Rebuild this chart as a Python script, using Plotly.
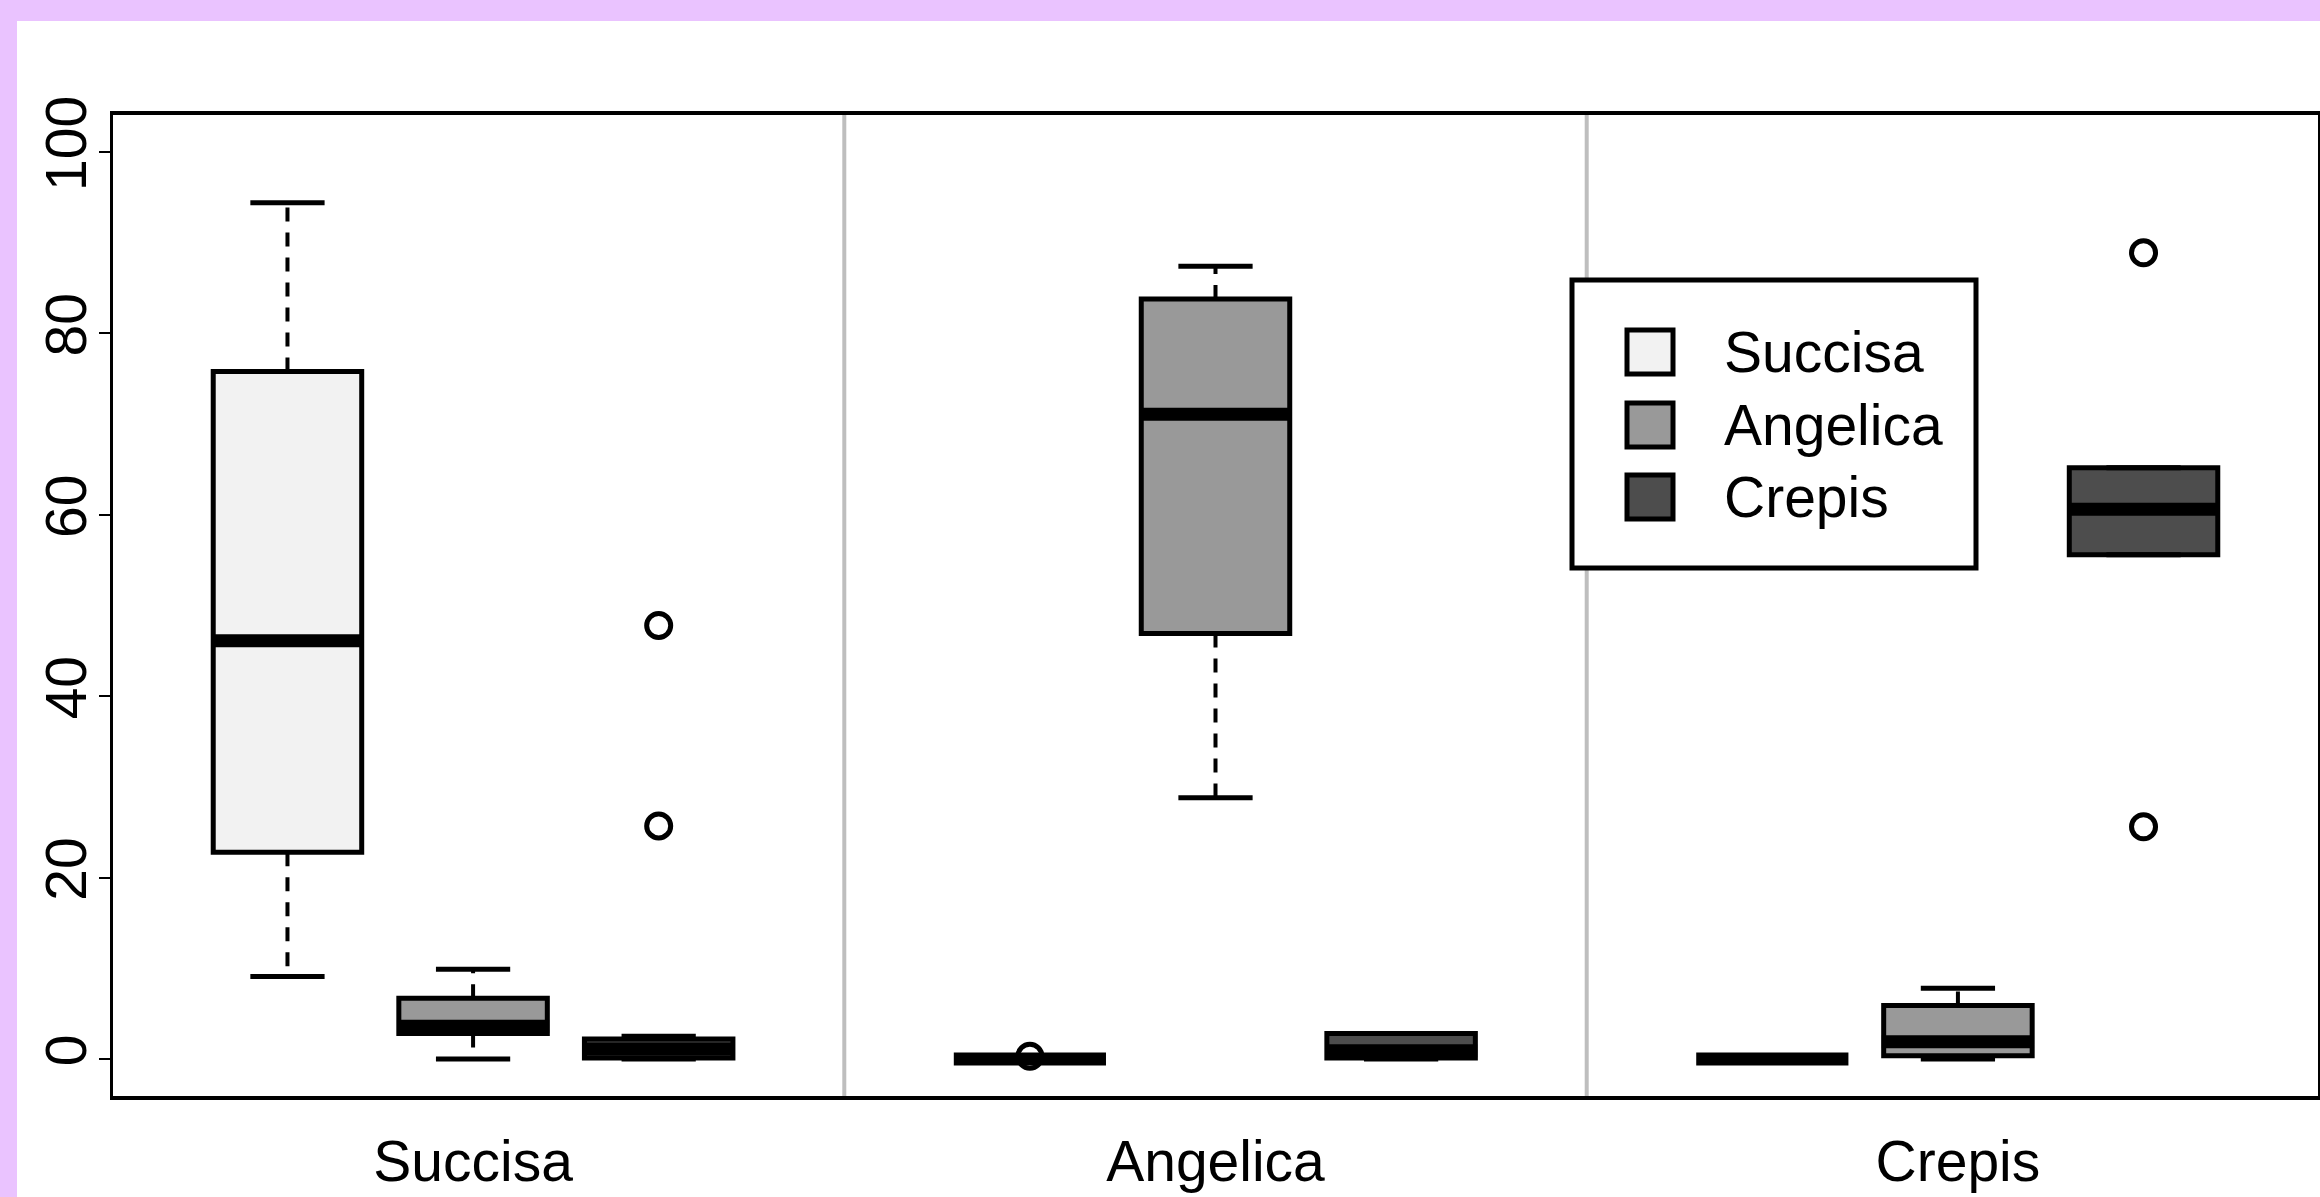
import plotly.graph_objects as go

# ---------------- data ----------------
groups = ["Succisa", "Angelica", "Crepis"]          # x categories (site groups)
series = ["Succisa", "Angelica", "Crepis"]          # box series (legend)
fills = ["#F2F2F2", "#999999", "#4D4D4D"]

# per series, values for each group in order of `groups`
q1 = {
    "Succisa":  [22.8, 0.0, 0.0],
    "Angelica": [2.8, 46.9, 0.35],
    "Crepis":   [0.1, 0.1, 55.6],
}
median = {
    "Succisa":  [46.1, 0.0, 0.0],
    "Angelica": [3.6, 71.1, 1.9],
    "Crepis":   [1.1, 0.9, 60.6],
}
q3 = {
    "Succisa":  [75.8, 0.0, 0.0],
    "Angelica": [6.7, 83.8, 5.9],
    "Crepis":   [2.2, 2.8, 65.2],
}
whisk_lo = {
    "Succisa":  [9.1, 0.0, 0.0],
    "Angelica": [0.0, 28.8, 0.0],
    "Crepis":   [0.0, 0.0, 55.6],
}
whisk_hi = {
    "Succisa":  [94.4, 0.0, 0.0],
    "Angelica": [9.9, 87.4, 7.8],
    "Crepis":   [2.5, 2.8, 65.2],
}
outliers = {
    "Succisa":  [[], [0.3], []],
    "Angelica": [[], [], []],
    "Crepis":   [[47.8, 25.7], [], [88.9, 25.6]],
}
y_ticks = [0, 20, 40, 60, 80, 100]

# ---------------- layout constants ----------------
W, H = 2320, 1197
ML, MR, MT, MB = 113, 2, 115, 101
PW, PH = W - ML - MR, H - MT - MB
FONT = "Liberation Sans, Arial, Helvetica, sans-serif"
FS = 57
LAVENDER = "#EAC3FF"
BOX_W = 0.8
CAP_W = 0.4


def pos(gi, si):
    return 4 * gi + si + 1


def px_x(p):
    return (p - ML) / PW


def px_y(p):
    return (H - MB - p) / PH


fig = go.Figure()

# white page area over lavender background (drawn first, below everything)
fig.add_shape(type="rect", xref="paper", yref="paper",
              x0=px_x(17), x1=1.5, y0=-1.0, y1=px_y(21),
              fillcolor="white", line=dict(width=0), layer="below")

# divider lines between groups
for gi in range(1, len(groups)):
    fig.add_shape(type="line", xref="x", yref="paper", x0=4 * gi, x1=4 * gi,
                  y0=0, y1=1, line=dict(color="#BEBEBE", width=4), layer="below")

for si, s in enumerate(series):
    xs = [pos(gi, si) for gi in range(len(groups))]
    # whiskers (dashed)
    wx, wy = [], []
    for gi, x in enumerate(xs):
        wx += [x, x, None, x, x, None]
        wy += [q3[s][gi], whisk_hi[s][gi], None, q1[s][gi], whisk_lo[s][gi], None]
    fig.add_trace(go.Scatter(x=wx, y=wy, mode="lines", showlegend=False, hoverinfo="skip",
                             line=dict(color="black", width=4, dash="14px,11px")))
    # staples
    cx, cy = [], []
    for gi, x in enumerate(xs):
        for v in (whisk_hi[s][gi], whisk_lo[s][gi]):
            cx += [x - CAP_W / 2, x + CAP_W / 2, None]
            cy += [v, v, None]
    fig.add_trace(go.Scatter(x=cx, y=cy, mode="lines", showlegend=False, hoverinfo="skip",
                             line=dict(color="black", width=5)))
    # boxes
    fig.add_trace(go.Box(
        x=xs, q1=q1[s], median=median[s], q3=q3[s],
        lowerfence=q1[s], upperfence=q3[s],
        width=BOX_W, fillcolor=fills[si], name=s, showlegend=False,
        line=dict(color="black", width=5), whiskerwidth=0, boxpoints=False,
    ))
    # thick medians
    mx, my = [], []
    for gi, x in enumerate(xs):
        mx += [x - BOX_W / 2 - 0.01, x + BOX_W / 2 + 0.01, None]
        my += [median[s][gi], median[s][gi], None]
    fig.add_trace(go.Scatter(x=mx, y=my, mode="lines", showlegend=False, hoverinfo="skip",
                             line=dict(color="black", width=13)))
    # outliers
    ox, oy = [], []
    for gi, x in enumerate(xs):
        for v in outliers[s][gi]:
            ox.append(x)
            oy.append(v)
    if ox:
        fig.add_trace(go.Scatter(x=ox, y=oy, mode="markers", showlegend=False,
                                 marker=dict(symbol="circle-open", size=24, color="black",
                                             line=dict(width=5, color="black"))))

# manual legend (pixel geometry converted to paper coords)
fig.add_shape(type="rect", xref="paper", yref="paper",
              x0=px_x(1572), x1=px_x(1976), y0=px_y(568), y1=px_y(280),
              fillcolor="white", line=dict(color="black", width=5))
row_c = [352, 425, 497]
for si, s in enumerate(series):
    c = row_c[si]
    fig.add_shape(type="rect", xref="paper", yref="paper",
                  x0=px_x(1627), x1=px_x(1673), y0=px_y(c + 22), y1=px_y(c - 22),
                  fillcolor=fills[si], line=dict(color="black", width=5))
    fig.add_annotation(xref="paper", yref="paper", x=px_x(1722), y=px_y(c),
                       text=s, showarrow=False, xanchor="left", yanchor="middle",
                       font=dict(family=FONT, size=FS, color="black"))

fig.update_layout(
    width=W, height=H,
    margin=dict(l=ML, r=MR, t=MT, b=MB, pad=0, autoexpand=False),
    paper_bgcolor=LAVENDER, plot_bgcolor="white",
    font=dict(family=FONT, size=FS, color="black"),
    showlegend=False, boxmode="overlay",
)
fig.update_xaxes(
    range=[0.06, 11.94], tickvals=[4 * gi + 2 for gi in range(len(groups))], ticktext=groups,
    showline=True, mirror=True, linecolor="black", linewidth=4, ticks="",
    showgrid=False, zeroline=False, ticklabelstandoff=13, automargin=False,
)
fig.update_yaxes(
    range=[-4.08, 104.08], tickvals=y_ticks, ticktext=[str(v) for v in y_ticks],
    tickangle=-90, ticks="outside", ticklen=11, tickwidth=2, tickcolor="black",
    showline=True, mirror=True, linecolor="black", linewidth=3,
    showgrid=False, zeroline=False, ticklabelstandoff=-10, automargin=False,
)

fig.write_html("out.html", config={"displayModeBar": False},
               post_script="document.body.style.margin='0';document.body.style.overflow='hidden';")
